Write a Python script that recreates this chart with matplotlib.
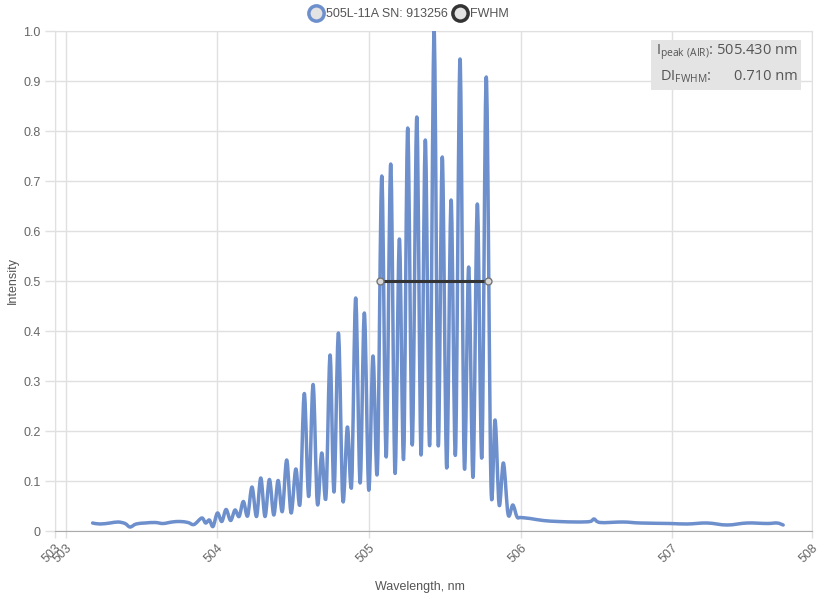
import numpy as np
import matplotlib
matplotlib.use('Agg')
import matplotlib.pyplot as plt
from matplotlib.lines import Line2D
from matplotlib.patches import Rectangle, PathPatch
from matplotlib.path import Path

plt.rcParams['font.family'] = ['Liberation Sans', 'DejaVu Sans']

# spectrum (wavelength nm, normalised intensity)
base_left_wl = [503.177, 503.226, 503.292, 503.345, 503.391, 503.424, 503.464, 503.523,
                503.589, 503.642, 503.701, 503.754, 503.806, 503.846]
base_left_int = [0.016, 0.014, 0.016, 0.018, 0.015, 0.008, 0.014, 0.016,
                 0.017, 0.015, 0.018, 0.019, 0.017, 0.013]

peak_wl = [503.897, 503.947, 504.000, 504.057, 504.116, 504.171, 504.228, 504.286,
           504.343, 504.400, 504.457, 504.517, 504.573, 504.631, 504.688, 504.743,
           504.798, 504.857, 504.912, 504.969, 505.026, 505.084, 505.143, 505.200,
           505.255, 505.315, 505.371, 505.429, 505.483, 505.541, 505.600, 505.657,
           505.714, 505.773, 505.831, 505.886, 505.948]
peak_int = [0.026, 0.022, 0.036, 0.043, 0.042, 0.059, 0.088, 0.106,
            0.103, 0.101, 0.142, 0.124, 0.275, 0.293, 0.156, 0.352,
            0.396, 0.208, 0.466, 0.436, 0.350, 0.710, 0.734, 0.584,
            0.806, 0.828, 0.782, 1.000, 0.748, 0.662, 0.944, 0.528,
            0.654, 0.908, 0.222, 0.136, 0.052]

valley_wl = [503.922, 503.971, 504.029, 504.087, 504.143, 504.199, 504.258, 504.314,
             504.372, 504.428, 504.486, 504.545, 504.602, 504.659, 504.716, 504.769,
             504.827, 504.885, 504.941, 504.998, 505.055, 505.113, 505.171, 505.228,
             505.285, 505.343, 505.400, 505.456, 505.512, 505.570, 505.628, 505.686,
             505.744, 505.804, 505.858, 505.917, 505.976]
valley_int = [0.016, 0.009, 0.019, 0.021, 0.029, 0.030, 0.029, 0.029,
              0.032, 0.039, 0.036, 0.055, 0.069, 0.055, 0.068, 0.078,
              0.062, 0.092, 0.096, 0.082, 0.120, 0.148, 0.116, 0.145,
              0.172, 0.152, 0.172, 0.172, 0.126, 0.154, 0.130, 0.108,
              0.148, 0.092, 0.052, 0.033, 0.028]

base_right_wl = [506.000, 506.062, 506.148, 506.247, 506.372, 506.458, 506.484, 506.524,
                 506.675, 506.788, 506.985, 507.097, 507.229, 507.361, 507.493, 507.625,
                 507.691, 507.731]
base_right_int = [0.027, 0.025, 0.021, 0.019, 0.018, 0.019, 0.024, 0.017,
                  0.018, 0.016, 0.015, 0.014, 0.016, 0.012, 0.016, 0.015,
                  0.016, 0.012]

fwhm_wl = [505.070, 505.785]
fwhm_int = [0.5, 0.5]

x_ticks = [502.929, 503, 504, 505, 506, 507, 507.921]
x_labels = ['503', '503', '504', '505', '506', '507', '508']
y_ticks = [0, 0.1, 0.2, 0.3, 0.4, 0.5, 0.6, 0.7, 0.8, 0.9, 1.0]
y_labels = ['0', '0.1', '0.2', '0.3', '0.4', '0.5', '0.6', '0.7', '0.8', '0.9', '1.0']

series_name = '505L-11A SN: 913256'
peak_text = r'I$_{\mathregular{peak\ (AIR)}}$: 505.430 nm'
fwhm_label = r'DI$_{\mathregular{FWHM}}$:'
fwhm_value = '0.710 nm'

blue = '#6d8fcc'
dark = '#333333'
grid_c = '#e0e0e0'


def smooth_path(xs, ys):
    # catmull-rom drawn as bezier segments, like the smoothed line of the original chart
    pts = np.column_stack([xs, ys])
    verts = [pts[0]]
    codes = [Path.MOVETO]
    n = len(pts)
    for i in range(n - 1):
        p0 = pts[max(i - 1, 0)]
        p1 = pts[i]
        p2 = pts[i + 1]
        p3 = pts[min(i + 2, n - 1)]
        verts += [p1 + (p2 - p0) / 6, p2 - (p3 - p1) / 6, p2]
        codes += [Path.CURVE4] * 3
    return Path(verts, codes)


df_wl = np.array(base_left_wl + peak_wl + valley_wl + base_right_wl)
df_int = np.array(base_left_int + peak_int + valley_int + base_right_int)
order = np.argsort(df_wl)

fig = plt.figure(figsize=(8.2, 6), dpi=100)
ax = fig.add_axes([55 / 820, 1 - 531 / 600, 757 / 820, 500 / 600])

spec = PathPatch(smooth_path(df_wl[order], df_int[order]), facecolor='none', edgecolor=blue,
                 lw=2.5, joinstyle='round', capstyle='round', zorder=3)
ax.add_patch(spec)
ax.plot(fwhm_wl, fwhm_int, color=dark, lw=2.2, zorder=4)
ax.plot(fwhm_wl, fwhm_int, ls='none', marker='o', ms=5, mfc='#d8d8d8', mec='#777777', mew=1, zorder=5)

ax.set_xlim(x_ticks[0], x_ticks[-1])
ax.set_ylim(0, 1.0)
ax.set_xticks(x_ticks)
ax.set_xticklabels(x_labels)
ax.set_yticks(y_ticks)
ax.set_yticklabels(y_labels)
ax.grid(True, color=grid_c, lw=1)
ax.tick_params(axis='both', colors=grid_c, labelcolor='#666666', labelsize=9, length=7, width=1)
ax.tick_params(axis='x', length=5, pad=3)
for lab in ax.get_xticklabels():
    lab.set_rotation(45)
    lab.set_ha('right')
    lab.set_rotation_mode('anchor')
for side in ['left', 'right', 'top']:
    ax.spines[side].set_color(grid_c)
ax.spines['bottom'].set_color('#aaaaaa')

ax.set_xlabel('Wavelength, nm', color='#555555', fontsize=9)
ax.set_ylabel('Intensity', color='#555555', fontsize=9)
ax.xaxis.set_label_coords(0.482, -0.100)
ax.yaxis.set_label_coords(-0.048, 0.5)

# info box in the upper right
ax.add_patch(Rectangle((0.787, 0.882), 0.198, 0.100, transform=ax.transAxes,
                       facecolor='#e4e4e4', edgecolor='none', zorder=6))
ax.text(0.981, 0.958, peak_text, transform=ax.transAxes, ha='right', va='center',
        fontsize=10.5, color='#555555', family=['Open Sans', 'DejaVu Sans'], zorder=7)
ax.text(0.799, 0.908, fwhm_label, transform=ax.transAxes, ha='left', va='center',
        fontsize=10.5, color='#555555', family=['Open Sans', 'DejaVu Sans'], zorder=7)
ax.text(0.981, 0.910, fwhm_value, transform=ax.transAxes, ha='right', va='center',
        fontsize=10.5, color='#555555', family=['Open Sans', 'DejaVu Sans'], zorder=7)

handles = [
    Line2D([], [], ls='none', marker='o', ms=11, mfc='#e3e3e3', mec=blue, mew=2.5),
    Line2D([], [], ls='none', marker='o', ms=11, mfc='#e3e3e3', mec=dark, mew=2.5),
]
fig.legend(handles, [series_name, 'FWHM'], loc='center', bbox_to_anchor=(0.5, 1 - 14 / 600),
           ncol=2, frameon=False, handlelength=0.8, handletextpad=0.4, columnspacing=0.6,
           fontsize=9, labelcolor='#555555')

fig.savefig('out.png', dpi=100)
